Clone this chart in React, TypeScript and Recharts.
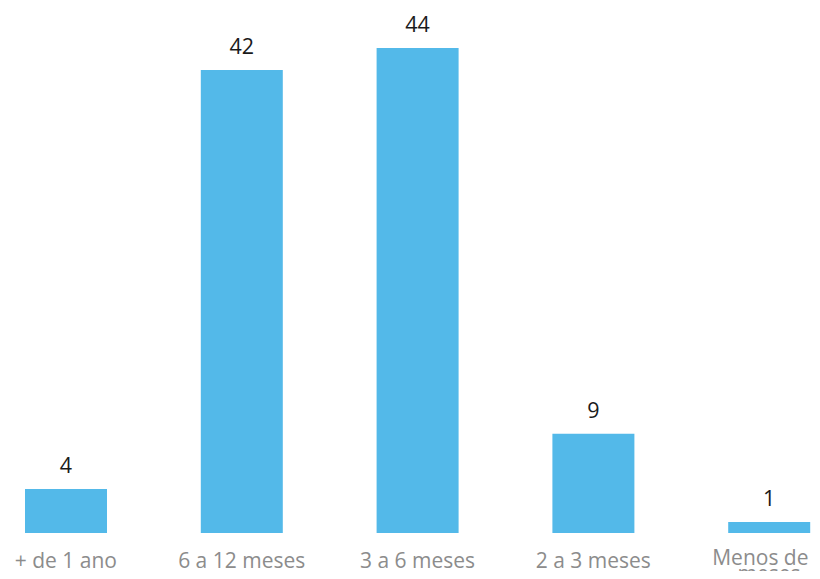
import React from 'react';
import { BarChart, Bar, XAxis, YAxis, LabelList } from 'recharts';

const categories = ['+ de 1 ano', '6 a 12 meses', '3 a 6 meses', '2 a 3 meses', 'Menos de 2 meses'];
const counts = [4, 42, 44, 9, 1];

const data = categories.map((name, i) => ({ name, value: counts[i] }));

const FONT = '"Open Sans", sans-serif';
const TICK_SIZE = 21;
const TICK_MAX_W = 150;

// split a label into lines that fit in maxW, measured with a canvas
const wrapText = (text: string, maxW: number) => {
  const ctx = document.createElement('canvas').getContext('2d');
  if (!ctx) return [text];
  ctx.font = `${TICK_SIZE}px ${FONT}`;
  const lines: string[] = [];
  let cur = '';
  text.split(' ').forEach((w) => {
    const next = cur ? `${cur} ${w}` : w;
    if (cur && ctx.measureText(next).width > maxW) {
      lines.push(cur);
      cur = w;
    } else {
      cur = next;
    }
  });
  if (cur) lines.push(cur);
  return lines;
};

const WrappedTick = ({ x, y, payload }: any) => {
  const lines = wrapText(payload.value, TICK_MAX_W);
  return (
    <g>
      {lines.map((l, i) => (
        <text
          key={i}
          x={x}
          y={y + (lines.length > 1 ? 14 : 17) + i * 16}
          textAnchor="middle"
          fontSize={TICK_SIZE}
          fontFamily={FONT}
          fill="#8c8c8c"
        >
          {l}
        </text>
      ))}
    </g>
  );
};

const App = () => {
  return (
    <div style={{ margin: -8, width: 820, height: 579, overflow: 'hidden', background: '#fff' }}>
      <div style={{ marginLeft: -22 }}>
        <BarChart
          width={879}
          height={579}
          data={data}
          margin={{ top: 48, right: 0, left: 0, bottom: 0 }}
        >
          <XAxis
            dataKey="name"
            axisLine={false}
            tickLine={false}
            height={46}
            tickMargin={12}
            interval={0}
            tick={(props: any) => <WrappedTick {...props} />}
          />
          <YAxis hide domain={[0, 44]} />
          <Bar dataKey="value" fill="#53b9e9" barSize={82} isAnimationActive={false}>
            <LabelList
              dataKey="value"
              position="top"
              offset={16}
              fontSize={21.5}
              fontFamily={FONT}
              fill="#1a1a1a"
            />
          </Bar>
        </BarChart>
      </div>
    </div>
  );
};

export default App;
